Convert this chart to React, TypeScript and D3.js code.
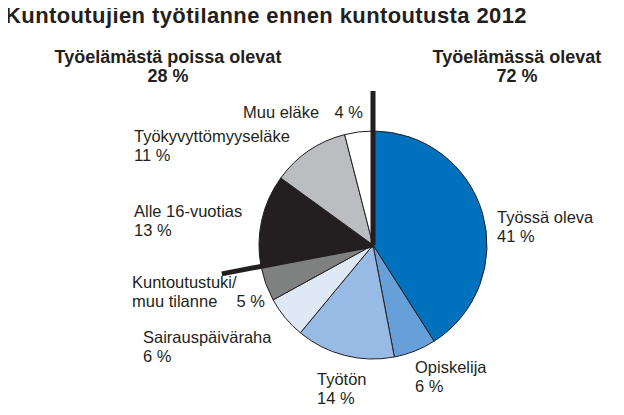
import { useEffect, useRef } from 'react'
import * as d3 from 'd3'

const categories = [
  'Työssä oleva',
  'Opiskelija',
  'Työtön',
  'Sairauspäiväraha',
  'Kuntoutustuki/muu tilanne',
  'Alle 16-vuotias',
  'Työkyvyttömyyseläke',
  'Muu eläke',
]
const shares = [41, 6, 14, 6, 5, 13, 11, 4]
const colors = ['#0071bc', '#67a0d8', '#97bbe4', '#dfe9f6', '#7f8080', '#231f20', '#bcbdc0', '#ffffff']
// first five slices belong to "in working life"
const groupEnd = 5
const groups = ['Työelämästä poissa olevat', 'Työelämässä olevat']
const groupShares = ['28 %', '72 %']

// label lines per slice
const labelLines = [
  ['Työssä oleva', '41 %'],
  ['Opiskelija', '6 %'],
  ['Työtön', '14 %'],
  ['Sairauspäiväraha', '6 %'],
  ['Kuntoutustuki/', 'muu tilanne'],
  ['Alle 16-vuotias', '13 %'],
  ['Työkyvyttömyyseläke', '11 %'],
  ['Muu eläke'],
]
const labelPos = [
  [497, 223],
  [415, 373],
  [317, 385],
  [143, 343],
  [132, 288],
  [134, 217],
  [134, 142],
  [243, 118],
]

const ink = '#231f20'
const font = '"Liberation Sans", Arial, sans-serif'

export default function App() {
  const ref = useRef<SVGSVGElement>(null)

  useEffect(() => {
    if (!ref.current) return
    const width = 624
    const height = 415
    const cx = 373
    const cy = 245
    const r = 114

    const svg = d3.select(ref.current)
    svg.selectAll('*').remove()
    svg.attr('width', width).attr('height', height)

    svg
      .append('text')
      .attr('x', 5)
      .attr('y', 23)
      .style('font-family', font)
      .style('font-weight', 'bold')
      .style('font-size', '22px')
      .style('letter-spacing', '0.4px')
      .style('fill', ink)
      .text('Kuntoutujien työtilanne ennen kuntoutusta 2012')

    const groupX = [168, 517]
    groups.forEach((g, i) => {
      const t = svg
        .append('text')
        .attr('text-anchor', 'middle')
        .style('font-family', font)
        .style('font-weight', 'bold')
        .style('font-size', '18px')
        .style('fill', ink)
      t.append('tspan').attr('x', groupX[i]).attr('y', 63).text(g)
      t.append('tspan').attr('x', groupX[i]).attr('y', 82).text(groupShares[i])
    })

    const pie = d3
      .pie<number>()
      .sort(null)
      .value((d) => d)
    const arcs = pie(shares)
    const arc = d3.arc<d3.PieArcDatum<number>>().innerRadius(0).outerRadius(r)

    const g = svg.append('g').attr('transform', `translate(${cx},${cy})`)
    g.selectAll('path')
      .data(arcs)
      .join('path')
      .attr('d', arc)
      .attr('fill', (_, i) => colors[i])
      .attr('stroke', ink)
      .attr('stroke-width', 1)
      .attr('stroke-linejoin', 'round')

    // group dividers
    const divAngles = [arcs[0].startAngle, arcs[groupEnd - 1].endAngle]
    const len = r * 1.35
    g.selectAll('line.div')
      .data(divAngles)
      .join('line')
      .attr('class', 'div')
      .attr('x1', 0)
      .attr('y1', 0)
      .attr('x2', (a) => Math.sin(a) * len)
      .attr('y2', (a) => -Math.cos(a) * len)
      .attr('stroke', ink)
      .attr('stroke-width', 5)

    labelLines.forEach((lines, i) => {
      const t = svg
        .append('text')
        .style('font-family', font)
        .style('font-size', '16.5px')
        .style('fill', ink)
      lines.forEach((ln, j) => {
        t.append('tspan')
          .attr('x', labelPos[i][0])
          .attr('y', labelPos[i][1] + j * 19)
          .text(ln)
      })
    })

    // percentages set on the same line as the name
    const inline = [
      { text: `${shares[4]} %`, x: 265, y: 307 },
      { text: `${shares[7]} %`, x: 363, y: 118 },
    ]
    svg
      .append('g')
      .selectAll('text')
      .data(inline)
      .join('text')
      .attr('x', (d) => d.x)
      .attr('y', (d) => d.y)
      .attr('text-anchor', 'end')
      .style('font-family', font)
      .style('font-size', '16.5px')
      .style('fill', ink)
      .text((d) => d.text)
  }, [])

  return (
    <div style={{ margin: -8, background: '#fff' }}>
      <svg ref={ref} style={{ display: 'block' }} />
    </div>
  )
}
